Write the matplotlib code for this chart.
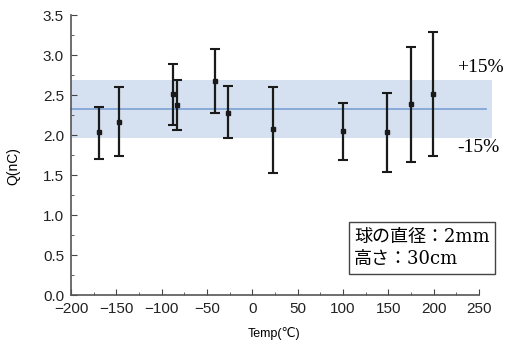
import matplotlib
matplotlib.use("Agg")
import matplotlib.pyplot as plt
from matplotlib.ticker import MultipleLocator

temp = [-169, -147, -87, -83, -41, -27, 23, 100, 149, 175, 199]
q = [2.04, 2.16, 2.51, 2.38, 2.68, 2.28, 2.07, 2.05, 2.04, 2.39, 2.51]
q_top = [2.35, 2.60, 2.89, 2.69, 3.07, 2.61, 2.60, 2.40, 2.53, 3.10, 3.29]
q_bot = [1.70, 1.74, 2.13, 2.06, 2.28, 1.96, 1.53, 1.69, 1.54, 1.66, 1.74]
mean_q = 2.32
band_lo, band_hi = 1.96, 2.69
x_ticks = [-200, -150, -100, -50, 0, 50, 100, 150, 200, 250]
y_ticks = [0.0, 0.5, 1.0, 1.5, 2.0, 2.5, 3.0, 3.5]

plt.rcParams['font.family'] = ['Liberation Sans', 'DejaVu Sans']

fig = plt.figure(figsize=(5.12, 3.42), dpi=100)
ax = fig.add_axes([0.1387, 0.1374, 0.7968, 0.8186])

ax.fill_between([-200, 264], band_lo, band_hi, color='#d5e1f0', lw=0, clip_on=False, zorder=1)
ax.plot([-200, 258], [mean_q, mean_q], color='#7b9fd4', lw=1.2, clip_on=False, zorder=2)

yerr = [[v - b for v, b in zip(q, q_bot)], [t - v for v, t in zip(q, q_top)]]
ax.errorbar(temp, q, yerr=yerr, fmt='s', color='#1a1a1a', ms=3.5, ecolor='#1a1a1a',
            elinewidth=1.6, capsize=3.5, capthick=1.5, zorder=3)

ax.set_xlim(-200, 250)
ax.set_ylim(0, 3.5)
ax.set_xticks(x_ticks)
ax.set_yticks(y_ticks)
ax.set_yticklabels([f"{v:.1f}" for v in y_ticks])
ax.set_xticklabels([str(v).replace('-', '\u2212') for v in x_ticks])
ax.xaxis.set_minor_locator(MultipleLocator(25))
ax.yaxis.set_minor_locator(MultipleLocator(0.25))
ax.tick_params(which='both', direction='in', labelsize=11, colors='#444444', labelcolor='#222222')
ax.tick_params(which='major', length=4)
ax.tick_params(which='minor', length=2)
ax.tick_params(axis='x', pad=5)
ax.tick_params(axis='y', pad=5)
for s in ['top', 'right']:
    ax.spines[s].set_visible(False)
for s in ['left', 'bottom']:
    ax.spines[s].set_color('#555555')
    ax.spines[s].set_linewidth(1.2)

fig.text(274 / 512, 1 - 333 / 342, 'Temp(℃)', ha='center', va='center', fontsize=9)
fig.text(13 / 512, 1 - 166 / 342, 'Q(nC)', ha='center', va='center', rotation=90, fontsize=10)

fig.text(457 / 512, 1 - 67 / 342, '+15%', ha='left', va='center', fontsize=14,
         family=['Liberation Serif'])
fig.text(457 / 512, 1 - 147 / 342, '-15%', ha='left', va='center', fontsize=14,
         family=['Liberation Serif'])

fig.text(354 / 512, 1 - 248 / 342, '球の直径：2mm\n高さ：30cm', ha='left', va='center', fontsize=13,
         linespacing=1.3, family=['DejaVu Serif', 'Noto Sans CJK JP'],
         bbox=dict(boxstyle='square,pad=0.3', fc='white', ec='#444444', lw=1.0))

fig.savefig('out.png', dpi=100)
